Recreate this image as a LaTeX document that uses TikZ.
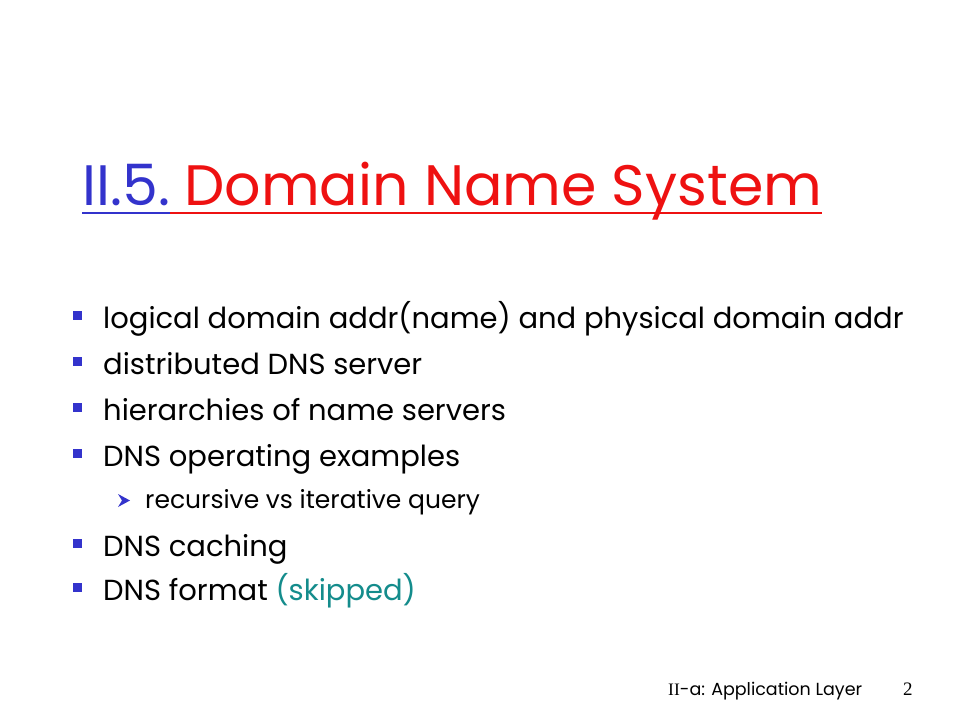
\documentclass[tikz,border=0pt]{standalone}
\usepackage{fontspec}
\setmainfont{Poppins}
\newfontfamily\pageserif{Liberation Serif}
\usetikzlibrary{positioning,calc}
\definecolor{numblue}{RGB}{51,51,204}
\definecolor{headred}{RGB}{238,17,17}
\definecolor{skipteal}{RGB}{20,140,140}

\begin{document}
\begin{tikzpicture}[x=1pt,y=-1pt,
    txt/.style={anchor=base west,inner sep=0pt},
    item/.style={txt,font=\fontsize{29}{29}\selectfont},
    subitem/.style={txt,font=\fontsize{25}{25}\selectfont},
    bulletbox/.style={fill=numblue,minimum size=9pt,inner sep=0pt},
    foot/.style={txt,font=\fontsize{17.5}{17.5}\selectfont}]
\useasboundingbox[fill=white] (0,0) rectangle (960,720);
% heading
\node[txt,font=\fontsize{57}{57}\selectfont,text=numblue] (num) at (82,205) {II.5.};
\node[txt,font=\fontsize{57}{57}\selectfont,text=headred] (head) at ([xshift=14pt]num.base east) {Domain Name System};
\draw[numblue,line width=2.5pt] ([yshift=-8pt]num.base west) -- ([yshift=-8pt]num.base east) coordinate (nu);
\draw[headred,line width=2.5pt] (nu) -- ([yshift=-8pt]head.base east);
% bullets
\foreach \nm/\y/\t in {b1/328/{logical domain addr(name) and physical domain addr},
                        b2/374/{distributed DNS server},
                        b3/420/{hierarchies of name servers},
                        b4/466/{DNS operating examples},
                        b5/556/{DNS caching},
                        b6/600/{DNS format \textcolor{skipteal}{(skipped)}}}{
  \node[item] (\nm) at (103,\y) {\t};
  \node[bulletbox] at ([xshift=-26pt,yshift=13pt]\nm.base west) {};
}
\node[subitem] (s1) at (145,508) {recursive vs iterative query};
\fill[numblue] ([xshift=-27pt,yshift=14pt]s1.base west) -- ++(12,6.5) -- ++(-12,6.5) -- ++(4,-6.5) -- cycle;
% footer
\node[foot] (lay) at (668,695) {{\pageserif II}-a: Application Layer};
\node[foot,font=\pageserif\fontsize{19}{19}\selectfont] (pg) at (903,695) {2};
\end{tikzpicture}
\end{document}
